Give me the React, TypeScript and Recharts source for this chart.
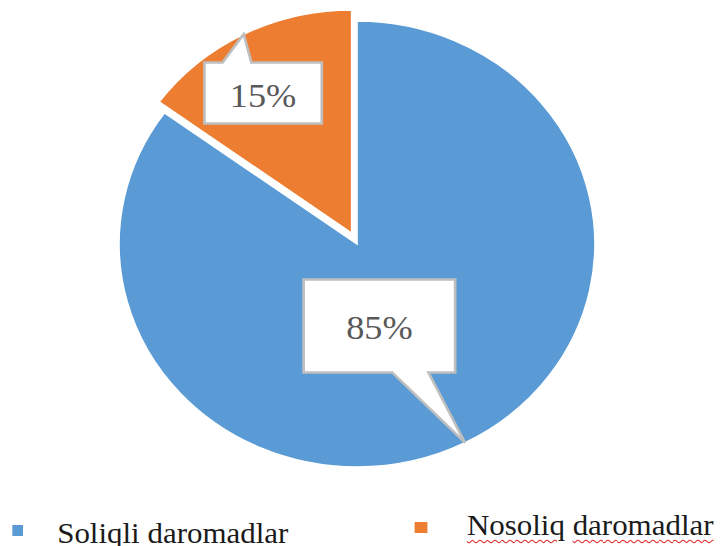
import { PieChart, Pie, Cell } from "recharts"

const CATEGORIES = ["Soliqli daromadlar", "Nosoliq daromadlar"]
const SHARES = [85, 15]
const COLORS = ["#5b9bd5", "#ed7d31"]

const data = CATEGORIES.map((name, i) => ({ name, value: SHARES[i] }))

const RADIAN = Math.PI / 180
const SERIF = "'Liberation Serif', 'Times New Roman', serif"

// where each callout box sits relative to its slice centre
const CALLOUTS = [
    { dx: 21, dy: 82, w: 142, h: 93, side: "bottom", base: [12, 46], textDy: 1.5 },
    { dx: -83, dy: -140, w: 110, h: 61, side: "top", base: [-38, -11], textDy: 3 },
]

function calloutFor(only: number) {
    return (props: any) => {
        const { cx, cy, midAngle, outerRadius, index, percent } = props
        if (index !== only) return null
        const c = CALLOUTS[index]
        const bx = cx + c.dx
        const by = cy + c.dy
        const x0 = bx - c.w / 2, x1 = bx + c.w / 2
        const y0 = by - c.h / 2, y1 = by + c.h / 2
        // pointer tip on the rim, at the slice's middle angle
        const tx = cx + outerRadius * Math.cos(-midAngle * RADIAN)
        const ty = cy + outerRadius * Math.sin(-midAngle * RADIAN)
        const p0 = bx + c.base[0], p1 = bx + c.base[1]
        const d = c.side === "bottom"
            ? `M${x0},${y0}H${x1}V${y1}H${p1}L${tx},${ty}L${p0},${y1}H${x0}Z`
            : `M${x0},${y0}H${p0}L${tx},${ty}L${p1},${y0}H${x1}V${y1}H${x0}Z`
        return (
            <g key={`callout-${index}`}>
                <path d={d} fill="#ffffff" stroke="#bfbfbf" strokeWidth={2.5} strokeLinejoin="miter" />
                <text x={bx} y={by + c.textDy} textAnchor="middle" dominantBaseline="central"
                    style={{ fontFamily: SERIF, fontSize: 34 }} fill="#595959">
                    {Math.round(percent * 100)}%
                </text>
            </g>
        )
    }
}

export default function App() {
    return (
        <div style={{ position: "absolute", left: 0, top: 0, width: 720, height: 546, overflow: "hidden", background: "#fff" }}>
            <div style={{ position: "absolute", left: 0, top: 0, width: 720, height: 546, transform: "scaleX(1.067)", transformOrigin: "357px 0" }}>
                <PieChart width={720} height={546} margin={{ top: 0, right: 0, bottom: 0, left: 0 }}>
                    <Pie data={data} dataKey="value" nameKey="name" cx={357} cy={244} outerRadius={223}
                        startAngle={90} endAngle={-270} stroke="#ffffff" strokeWidth={1.5}
                        label={calloutFor(0)} labelLine={false} isAnimationActive={false}>
                        {data.map((_, i) => (
                            <Cell key={i} fill={i === 0 ? COLORS[i] : "none"} stroke={i === 0 ? "#ffffff" : "none"} />
                        ))}
                    </Pie>
                    {/* exploded slice */}
                    <Pie data={data} dataKey="value" nameKey="name" cx={352} cy={233} outerRadius={223}
                        startAngle={90} endAngle={-270} stroke="#ffffff" strokeWidth={1.5}
                        label={calloutFor(1)} labelLine={false} isAnimationActive={false}>
                        {data.map((_, i) => (
                            <Cell key={i} fill={i === 1 ? COLORS[i] : "none"} stroke={i === 1 ? "#ffffff" : "none"} />
                        ))}
                    </Pie>
                </PieChart>

                {/* legend */}
                <div style={{ position: "absolute", left: 34, top: 525, width: 10, height: 11, background: COLORS[0] }} />
                <div style={{ position: "absolute", left: 76, top: 519, fontFamily: SERIF, fontSize: 29, lineHeight: 1, color: "#1a1a1a", whiteSpace: "nowrap" }}>
                    {CATEGORIES[0]}
                </div>
                <div style={{ position: "absolute", left: 411, top: 522, width: 12, height: 11, background: COLORS[1] }} />
                <div style={{ position: "absolute", left: 460, top: 511, fontFamily: SERIF, fontSize: 29, lineHeight: 1, color: "#1a1a1a", whiteSpace: "nowrap" }}>
                    {CATEGORIES[1].split(" ").map((w, i) => (
                        <span key={i}>
                            {i > 0 ? " " : ""}
                            <span style={{ textDecoration: "underline wavy #e02424", textDecorationThickness: 1, textUnderlineOffset: 4 }}>{w}</span>
                        </span>
                    ))}
                </div>
            </div>
        </div>
    )
}
